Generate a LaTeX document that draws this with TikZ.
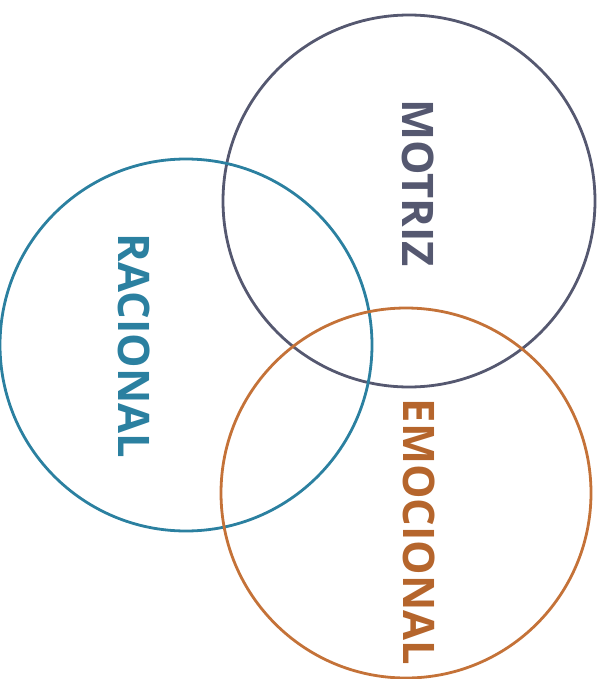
\documentclass[tikz,border=0pt]{standalone}
\usepackage{fontspec}
\setmainfont{Open Sans}
\definecolor{motriz}{HTML}{555870}
\definecolor{racional}{HTML}{2B80A0}
\definecolor{emocional}{HTML}{C47238}
\definecolor{emotext}{HTML}{B5652C}
\begin{document}
\begin{tikzpicture}[x=1pt,y=-1pt,
  ring/.style={circle, draw, line width=2.8pt, inner sep=0pt},
  label/.style={rotate=-90, font=\bfseries\fontsize{43.5}{43.5}\selectfont, inner sep=0pt}]
\useasboundingbox (0,0) rectangle (607,679);
\node[ring, draw=motriz, minimum size=372pt] (cm) at (409,201) {};
\node[ring, draw=racional, minimum size=372pt] (cr) at (186,345) {};
\node[ring, draw=emocional, minimum size=370pt] (ce) at (406,493) {};
\node[label, text=motriz] (tm) at (418,183) {MOTRIZ};
\node[label, text=racional] (tr) at (134,346) {RACIONAL};
\node[label, text=emotext] (te) at (419,532) {EMOCIONAL};
\end{tikzpicture}
\end{document}
